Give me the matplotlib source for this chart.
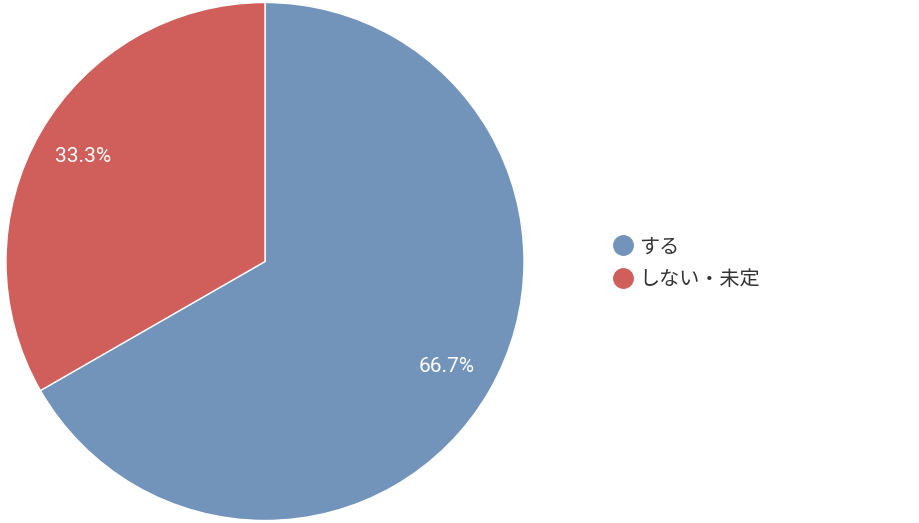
import matplotlib
matplotlib.use('Agg')
import matplotlib.pyplot as plt
from matplotlib.lines import Line2D

labels = ['する', 'しない・未定']
values = [66.7, 33.3]
colors = ['#7394BA', '#D05F5C']

plt.rcParams['font.family'] = ['Noto Sans CJK JP', 'DejaVu Sans']

fig = plt.figure(figsize=(9.2, 5.23), dpi=100)
ax = fig.add_axes([6 / 920, 2 / 523, 518 / 920, 519 / 523])
ax.set_aspect('equal')

wedges, texts, autotexts = ax.pie(
    values, colors=colors, startangle=90, counterclock=False,
    autopct='%1.1f%%', pctdistance=0.81,
    wedgeprops=dict(edgecolor='white', linewidth=1),
    textprops=dict(color='white', fontsize=15, family=['Roboto', 'DejaVu Sans']))
ax.set_xlim(-1, 1)
ax.set_ylim(-1, 1)

handles = [Line2D([], [], marker='o', linestyle='none', markersize=14,
                  markerfacecolor=c, markeredgecolor=c) for c in colors]
fig.legend(handles, labels, loc='center left', bbox_to_anchor=(594 / 920, 1 - 263 / 523),
           frameon=False, fontsize=14.5, handletextpad=0.25, labelspacing=0.56,
           handlelength=1.1, labelcolor='#333333')

fig.savefig('out.png', dpi=100)
